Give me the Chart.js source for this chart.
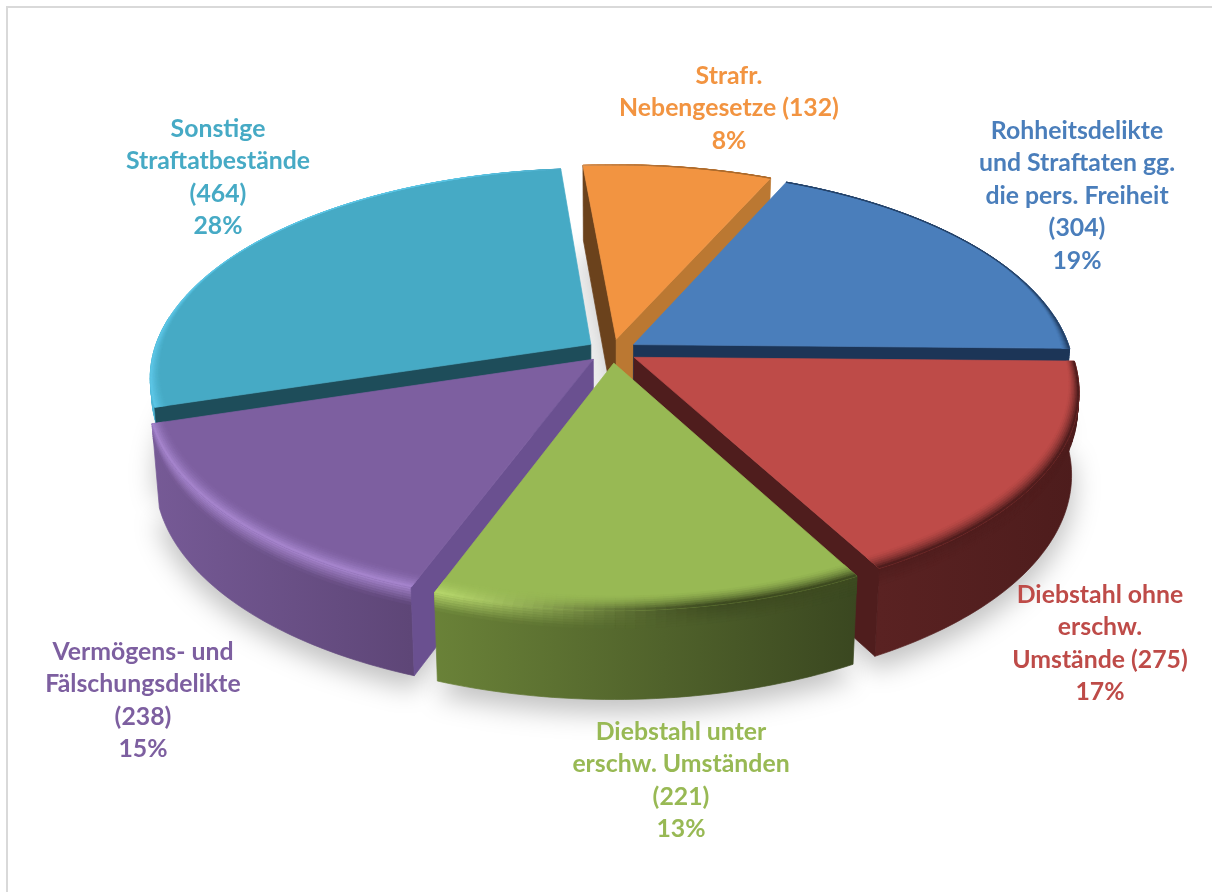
<!DOCTYPE html>
<html lang="de">
<head>
<meta charset="utf-8">
<title>Straftaten nach Deliktsgruppen</title>
<script src="https://cdn.jsdelivr.net/npm/chart.js@4"></script>
<style>
  html, body { margin: 0; padding: 0; background: #fff; }
  #frame { position: absolute; left: 6px; top: 6px; width: 1206px; height: 886px;
           border-left: 2px solid #d9d9d9; border-top: 2px solid #d9d9d9; box-sizing: border-box; }
  #wrap { position: absolute; left: 0; top: 0; width: 1212px; height: 892px; }
</style>
</head>
<body>
<div id="frame"></div>
<div id="wrap"><canvas id="pie" width="1212" height="892"></canvas></div>
<script>
// Fallzahlen je Deliktsgruppe, im Uhrzeigersinn ab der Spitze
const categories = [
  "Strafrechtliche Nebengesetze",
  "Rohheitsdelikte und Straftaten gg. die pers. Freiheit",
  "Diebstahl ohne erschw. Umstände",
  "Diebstahl unter erschw. Umständen",
  "Vermögens- und Fälschungsdelikte",
  "Sonstige Straftatbestände"
];
const values = [132, 304, 275, 221, 238, 464];
const percents = ["8%", "19%", "17%", "13%", "15%", "28%"];

// Beschriftung zeilenweise; {v} steht für den Fallwert
const labelLines = [
  ["Strafr.", "Nebengesetze ({v})"],
  ["Rohheitsdelikte", "und Straftaten gg.", "die pers. Freiheit", "({v})"],
  ["Diebstahl ohne", "erschw.", "Umstände ({v})"],
  ["Diebstahl unter", "erschw. Umständen", "({v})"],
  ["Vermögens- und", "Fälschungsdelikte", "({v})"],
  ["Sonstige", "Straftatbestände", "({v})"]
];
const labelAnchors = [[729, 76], [1077, 131], [1100, 595], [681, 732], [143, 652], [218, 129]];
const labelLineHeight = 32.5;

// Farben: Deckfläche, Schnittkanten, Außenwand, Lichtkante
const topColors   = ["#f29441", "#4a7ebb", "#be4b48", "#98b954", "#7d5fa0", "#46aac5"];
const textColors  = ["#f29441", "#4a7ebb", "#be4b48", "#98b954", "#7d5fa0", "#46aac5"];
const startWalls  = ["#6b421c", "#2d4a73", "#4f1d1d", "#4a5c28", "#6a5090", "#1e4d5a"];
const endWalls    = ["#bb7832", "#1c3557", "#4f1d1d", "#4a5c28", "#5e4677", "#2a7187"];
const outerWalls  = [["#bb7832", "#bb7832"], ["#2c4a73", "#2c4a73"], ["#5a2222", "#4d1c1c"],
                     ["#6a8238", "#3a4720"], ["#765a96", "#5e4677"], ["#4fb5d5", "#4fb5d5"]];
const rimLight    = ["#f7b27a", "#6d9ad0", "#c85a57", "#b7d86c", "#a584cc", "#5cc5e5"];
const rimDark     = ["#a8682c", "#244066", "#4f1d1d", "#3d4a20", "#6a5090", "#3b8da5"];

// Kamerawerte der gekippten Torte
const tilt = { rx: 437, ry: 205, persp: 0.155, depth: 82, depthPersp: 0.08, taper: 0.016, rimWidth: 0.05 };

function hexRgb(h) { return [1, 3, 5].map(i => parseInt(h.substr(i, 2), 16)); }
function rgbOf(c) { return c[0] === "#" ? hexRgb(c) : c.match(/\d+/g).map(Number); }
function mix(a, b, t) {
  const A = rgbOf(a), B = rgbOf(b);
  return "rgb(" + A.map((c, i) => Math.round(c + (B[i] - c) * t)).join(",") + ")";
}
function clamp(x, lo, hi) { return Math.min(hi, Math.max(lo, x)); }

// Bildet einen Punkt der Tortenscheibe auf die Leinwand ab (z = 1: Unterkante)
function project(arc, rho, angle, z) {
  const mid = (arc.startAngle + arc.endAngle) / 2;
  const shift = arc.options.offset / arc.outerRadius;
  const u = shift * Math.cos(mid) + rho * Math.cos(angle);
  const v = shift * Math.sin(mid) + rho * Math.sin(angle);
  const w = 1 / (1 - tilt.persp * v);
  return [arc.x + tilt.rx * u * w * (1 - tilt.taper * z),
          arc.y + tilt.ry * v * w + tilt.depth * z * (1 + tilt.depthPersp * v)];
}

function polygon(ctx, pts, fill) {
  ctx.beginPath();
  pts.forEach((p, i) => i ? ctx.lineTo(p[0], p[1]) : ctx.moveTo(p[0], p[1]));
  ctx.closePath();
  ctx.fillStyle = fill;
  ctx.strokeStyle = fill;
  ctx.lineWidth = 0.7;
  ctx.fill();
  ctx.stroke();
}

function arcAngles(arc) {
  const n = Math.max(8, Math.ceil((arc.endAngle - arc.startAngle) / 0.02));
  const list = [];
  for (let i = 0; i <= n; i++) list.push(arc.startAngle + (arc.endAngle - arc.startAngle) * i / n);
  return list;
}

function drawShadow(ctx, arcs) {
  ctx.save();
  ctx.filter = "blur(13px)";
  ctx.fillStyle = "rgba(0,0,0,0.24)";
  arcs.forEach(arc => {
    const angles = arcAngles(arc);
    ctx.beginPath();
    const tip = project(arc, 0, 0, 1);
    ctx.moveTo(tip[0], tip[1] + 12);
    angles.forEach(a => { const p = project(arc, 1.005, a, 1); ctx.lineTo(p[0], p[1] + 12); });
    ctx.closePath();
    ctx.fill();
  });
  ctx.restore();
}

// Farbe der Lichtkante: Licht fällt von links ein
function rimTarget(i, angle) {
  const lit = (1 - Math.cos(angle)) / 2;
  const t = clamp((lit - 0.38) / 0.32, 0, 1);
  return mix(rimDark[i], rimLight[i], t * t * (3 - 2 * t));
}

function rimRadius(angle, f) {
  const width = tilt.rimWidth * clamp(0.35 + 0.65 * Math.sin(angle), 0.06, 1);
  return 1 - width * (1 - f);
}

function drawSlice(ctx, arc, i) {
  const angles = arcAngles(arc);

  // Außenwand: waagerechter Verlauf, oben weich aus der Lichtkante heraus
  const front = angles.filter(a => Math.sin(a) > -0.15);
  if (front.length > 1) {
    const xs = front.map(a => project(arc, 1, a, 0)[0]);
    const xMin = Math.min(...xs), xMax = Math.max(...xs);
    const grad = ctx.createLinearGradient(xMin, 0, xMax, 0);
    grad.addColorStop(0, outerWalls[i][0]);
    grad.addColorStop(1, outerWalls[i][1]);
    polygon(ctx, front.map(a => project(arc, 1, a, 0))
      .concat(front.slice().reverse().map(a => project(arc, 1, a, 1))), grad);

    const bands = 7, bandDepth = 0.2;
    for (let s = 0; s < bands; s++) {
      const z0 = bandDepth * s / bands, z1 = bandDepth * (s + 1) / bands;
      for (let k = 0; k < front.length - 1; k++) {
        const a0 = front[k], a1 = front[k + 1];
        const x = (xs[k] + xs[k + 1]) / 2;
        const wall = mix(outerWalls[i][0], outerWalls[i][1], (x - xMin) / (xMax - xMin || 1));
        polygon(ctx, [project(arc, 1, a0, z0), project(arc, 1, a1, z0),
                      project(arc, 1, a1, z1), project(arc, 1, a0, z1)],
                mix(rimTarget(i, (a0 + a1) / 2), wall, (s + 0.5) / bands));
      }
    }
  }

  // Schnittflächen zur Tortenmitte, nur wenn sie zum Betrachter zeigen
  if (-Math.cos(arc.startAngle) > 0) {
    const a = arc.startAngle;
    polygon(ctx, [project(arc, 0, a, 0), project(arc, 1, a, 0),
                  project(arc, 1, a, 1), project(arc, 0, a, 1)], startWalls[i]);
  }
  if (Math.cos(arc.endAngle) > 0) {
    const a = arc.endAngle;
    polygon(ctx, [project(arc, 0, a, 0), project(arc, 1, a, 0),
                  project(arc, 1, a, 1), project(arc, 0, a, 1)], endWalls[i]);
  }

  // Deckfläche
  polygon(ctx, [project(arc, 0, 0, 0)].concat(angles.map(a => project(arc, 1, a, 0))), topColors[i]);

  // Abgerundete Kante zwischen Deckfläche und Wand
  const steps = 7;
  for (let s = 0; s < steps; s++) {
    const f0 = s / steps, f1 = (s + 1) / steps;
    for (let k = 0; k < angles.length - 1; k++) {
      const a0 = angles[k], a1 = angles[k + 1];
      const color = mix(topColors[i], rimTarget(i, (a0 + a1) / 2), Math.pow(f1, 1.6));
      polygon(ctx, [project(arc, rimRadius(a0, f0), a0, 0), project(arc, rimRadius(a1, f0), a1, 0),
                    project(arc, rimRadius(a1, f1), a1, 0), project(arc, rimRadius(a0, f1), a0, 0)], color);
    }
  }
}

const tiltedPie = {
  id: "tiltedPie",
  beforeDatasetsDraw(chart) {
    const ctx = chart.ctx;
    const arcs = chart.getDatasetMeta(0).data;
    drawShadow(ctx, arcs);
    arcs.map((arc, i) => ({ arc, i, depth: Math.sin((arc.startAngle + arc.endAngle) / 2) }))
        .sort((a, b) => a.depth - b.depth)
        .forEach(({ arc, i }) => drawSlice(ctx, arc, i));
    return false;
  },
  afterDraw(chart) {
    const ctx = chart.ctx;
    ctx.save();
    ctx.font = "700 24.8px Lato, 'Open Sans', sans-serif";
    ctx.textAlign = "center";
    ctx.textBaseline = "middle";
    labelLines.forEach((lines, i) => {
      ctx.fillStyle = textColors[i];
      const all = lines.map(l => l.replace("{v}", values[i])).concat(percents[i]);
      all.forEach((line, n) => {
        ctx.fillText(line, labelAnchors[i][0], labelAnchors[i][1] + n * labelLineHeight);
      });
    });
    ctx.restore();
  }
};

new Chart(document.getElementById("pie"), {
  type: "pie",
  data: {
    labels: categories,
    datasets: [{ data: values, backgroundColor: topColors, offset: 20, borderWidth: 0 }]
  },
  options: {
    responsive: false,
    animation: false,
    rotation: -5,
    layout: { padding: { left: 12, right: 0, top: 0, bottom: 190 } },
    plugins: { legend: { display: false }, tooltip: { enabled: false } }
  },
  plugins: [tiltedPie]
});
</script>
</body>
</html>
